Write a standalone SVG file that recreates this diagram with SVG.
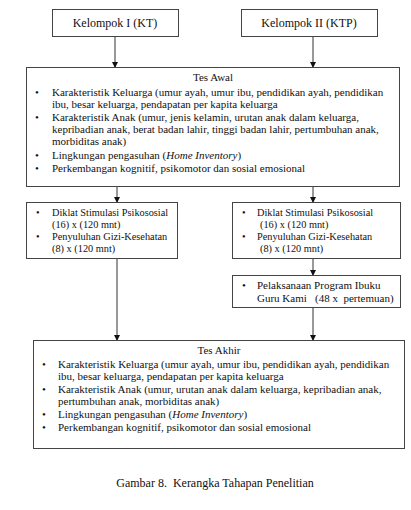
<svg xmlns="http://www.w3.org/2000/svg" width="411" height="510" viewBox="0 0 411 510" font-family="'Liberation Serif','Times New Roman',serif">
<defs>
<marker id="ah" markerWidth="6" markerHeight="6" refX="5" refY="3" orient="auto" markerUnits="userSpaceOnUse">
<path d="M0,0 L6,3 L0,6 Z" fill="#111"/>
</marker>
<style>
.box{fill:#fff;stroke:#444;stroke-width:1}
.t{font-family:"Liberation Serif","Times New Roman",serif;font-size:11px;fill:#111}
.s{font-family:"Liberation Serif","Times New Roman",serif;font-size:10.3px;fill:#111}
.h{font-family:"Liberation Serif","Times New Roman",serif;font-size:12px;fill:#111}
.c{text-anchor:middle}
.con{stroke:#333;stroke-width:1;fill:none}
</style>
</defs>
<rect width="411" height="510" fill="#fff"/>
<g id="connectors">
<line class="con" x1="115" y1="36" x2="115" y2="67" marker-end="url(#ah)"/>
<line class="con" x1="313" y1="36" x2="313" y2="67" marker-end="url(#ah)"/>
<line class="con" x1="117" y1="186" x2="117" y2="202" marker-end="url(#ah)"/>
<line class="con" x1="313" y1="186" x2="313" y2="202" marker-end="url(#ah)"/>
<line class="con" x1="313" y1="258" x2="313" y2="275" marker-end="url(#ah)"/>
<line class="con" x1="117" y1="258" x2="117" y2="340" marker-end="url(#ah)"/>
<line class="con" x1="313" y1="307" x2="313" y2="340" marker-end="url(#ah)"/>
</g>
<g id="kt">
<rect class="box" x="52.5" y="9.5" width="126" height="27"/>
<text class="h c" x="115" y="27">Kelompok I (KT)</text>
</g>
<g id="ktp">
<rect class="box" x="241.5" y="9.5" width="136" height="27"/>
<text class="h c" x="309" y="27">Kelompok II (KTP)</text>
</g>
<g id="tes-awal">
<rect class="box" x="26.5" y="67.5" width="373" height="119"/>
<text class="t c" x="213" y="81">Tes Awal</text>
<text class="t" x="35" y="96">•</text>
<text class="t" x="52" y="96">Karakteristik Keluarga (umur ayah, umur ibu, pendidikan ayah, pendidikan</text>
<text class="t" x="52" y="108">ibu, besar keluarga, pendapatan per kapita keluarga</text>
<text class="t" x="35" y="121">•</text>
<text class="t" x="52" y="121">Karakteristik Anak (umur, jenis kelamin, urutan anak dalam keluarga,</text>
<text class="t" x="52" y="133">kepribadian anak, berat badan lahir, tinggi badan lahir, pertumbuhan anak,</text>
<text class="t" x="52" y="145">morbiditas anak)</text>
<text class="t" x="35" y="159">•</text>
<text class="t" x="52" y="159">Lingkungan pengasuhan (<tspan font-style="italic">Home Inventory</tspan>)</text>
<text class="t" x="35" y="172">•</text>
<text class="t" x="52" y="172">Perkembangan kognitif, psikomotor dan sosial emosional</text>
</g>
<g id="diklat-kt">
<rect class="box" x="26.5" y="202.5" width="151" height="56"/>
<text class="s" x="36" y="216">•</text>
<text class="s" x="52" y="216">Diklat Stimulasi Psikososial</text>
<text class="s" x="52" y="228">(16) x (120 mnt)</text>
<text class="s" x="36" y="240">•</text>
<text class="s" x="52" y="240">Penyuluhan Gizi-Kesehatan</text>
<text class="s" x="52" y="252">(8) x (120 mnt)</text>
</g>
<g id="diklat-ktp">
<rect class="box" x="232.5" y="202.5" width="168" height="56"/>
<text class="s" x="242" y="216">•</text>
<text class="s" x="257" y="216">Diklat Stimulasi Psikososial</text>
<text class="s" x="260" y="228">(16) x (120 mnt)</text>
<text class="s" x="242" y="240">•</text>
<text class="s" x="257" y="240">Penyuluhan Gizi-Kesehatan</text>
<text class="s" x="260" y="252">(8) x (120 mnt)</text>
</g>
<g id="pelaksanaan">
<rect class="box" x="232.5" y="275.5" width="168" height="32"/>
<text class="t" x="242" y="289">•</text>
<text class="t" x="257" y="289">Pelaksanaan Program Ibuku</text>
<text class="t" x="257" y="302" xml:space="preserve">Guru Kami   (48 x  pertemuan)</text>
</g>
<g id="tes-akhir">
<rect class="box" x="33.5" y="340.5" width="371" height="108"/>
<text class="t c" x="219" y="354">Tes Akhir</text>
<text class="t" x="42" y="368">•</text>
<text class="t" x="58" y="368">Karakteristik Keluarga (umur ayah, umur ibu, pendidikan ayah, pendidikan</text>
<text class="t" x="58" y="380">ibu, besar keluarga, pendapatan per kapita keluarga</text>
<text class="t" x="42" y="393">•</text>
<text class="t" x="58" y="393">Karakteristik Anak (umur, urutan anak dalam keluarga, kepribadian anak,</text>
<text class="t" x="58" y="405">pertumbuhan anak, morbiditas anak)</text>
<text class="t" x="42" y="418">•</text>
<text class="t" x="58" y="418">Lingkungan pengasuhan (<tspan font-style="italic">Home Inventory</tspan>)</text>
<text class="t" x="42" y="431">•</text>
<text class="t" x="58" y="431">Perkembangan kognitif, psikomotor dan sosial emosional</text>
</g>
<g id="caption">
<text class="h c" x="215" y="487" xml:space="preserve">Gambar 8.  Kerangka Tahapan Penelitian</text>
</g>
</svg>
